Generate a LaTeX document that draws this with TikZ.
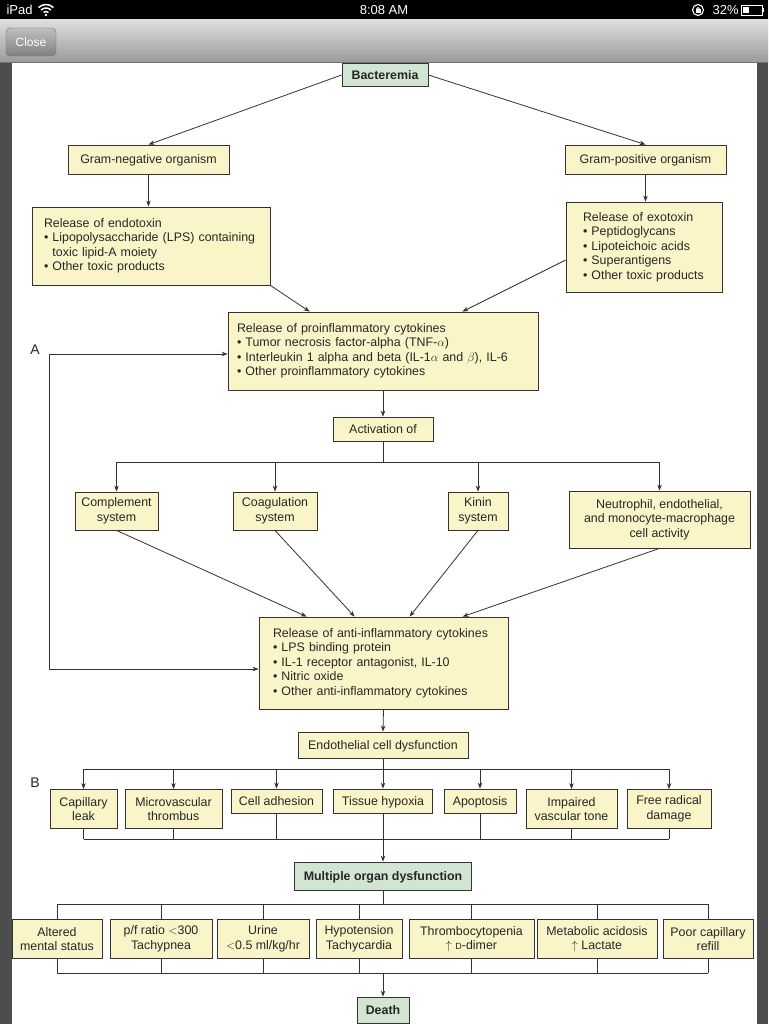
\documentclass[tikz,border=0pt]{standalone}
\usepackage{fontspec}
\setmainfont{Liberation Sans}
\usetikzlibrary{arrows.meta}
\definecolor{boxyellow}{HTML}{FAF5C8}
\definecolor{boxgreen}{HTML}{D2E5D2}
\definecolor{linegray}{HTML}{333333}
\definecolor{sidegray}{HTML}{4D4D4D}
\begin{document}
\begin{tikzpicture}[x=1pt,y=-1pt,
  every node/.style={font=\fontsize{12.4}{14.5}\selectfont, text=black!85},
  ybox/.style={draw=linegray, line width=0.8pt, fill=boxyellow, inner sep=0pt, align=center},
  gbox/.style={ybox, fill=boxgreen, font=\fontsize{12.4}{14.5}\selectfont\bfseries},
  one/.style={text height=9.6pt, text depth=0.6pt},
  lbox/.style={ybox, align=left, inner xsep=#1},
  conn/.style={draw=linegray, line width=0.8pt},
  arr/.style={conn, -{Stealth[length=6pt,width=4.5pt]}},
  arrboth/.style={conn, {Stealth[length=6pt,width=4.5pt]}-{Stealth[length=6pt,width=4.5pt]}},
  lab/.style={font=\fontsize{14}{16}\selectfont},
  bar/.style={text=white, font=\fontsize{13}{15}\selectfont}
]
\useasboundingbox (0,0) rectangle (768,1024);
% ---------- device frame ----------
\fill[sidegray] (0,63) rectangle (768,1024);
\fill[white] (12,63) rectangle (757,1024);
\fill[black] (0,0) rectangle (768,20);
\shade[top color=black!13, bottom color=black!40] (0,20) rectangle (768,63);
\draw[black!55, line width=0.8pt] (0,62.5) -- (768,62.5);
\node[bar, anchor=west] (ipad) at (3,10) {iPad};
\foreach \r in {3.5,7,10.5} \draw[white, line width=1.5pt] (46,15) ++(225:\r) arc[start angle=225, end angle=315, radius=\r];
\fill[white] (46,15) circle (1.3);
\node[bar] (clock) at (384,10) {8:08 AM};
\draw[white, line width=1.1pt] (698,10) circle (5.5);
\fill[white] (695.5,9) rectangle (700.5,13);
\draw[white, line width=0.9pt] (696.5,9) arc[start angle=180, end angle=360, radius=1.5];
\node[bar, anchor=west] (batt) at (709,10) {32\%};
\draw[white, line width=0.9pt] (741,5) rectangle (762,15);
\fill[white] (743,7) rectangle (749,13);
\fill[white] (762,8) rectangle (764,12);
\shade[top color=black!25, bottom color=black!50, draw=black!55, rounded corners=4pt] (6,28) rectangle (56,56);
\node[text=white, font=\fontsize{12}{14}\selectfont] (close) at (31,42) {Close};
% ---------- diagram nodes ----------
\node[gbox, one, minimum width=86, minimum height=23] (bact) at (385,75) {Bacteremia};
\node[ybox, one, minimum width=161, minimum height=29] (gneg) at (148.5,159.5) {Gram-negative organism};
\node[ybox, one, minimum width=161, minimum height=29] (gpos) at (645.5,159.5) {Gram-positive organism};
\node[lbox=12pt, text width=214pt, minimum height=78] (endo) at (151,246)
  {Release of endotoxin\\
   • Lipopolysaccharide (LPS) containing\\
   \phantom{• }toxic lipid-A moiety\\
   • Other toxic products};
\node[lbox=17pt, text width=122pt, minimum height=90] (exo) at (644,247)
  {Release of exotoxin\\
   • Peptidoglycans\\
   • Lipoteichoic acids\\
   • Superantigens\\
   • Other toxic products};
\node[lbox=9pt, text width=292pt, minimum height=78] (proinfl) at (383,351)
  {Release of proinflammatory cytokines\\
   • Tumor necrosis factor-alpha (TNF-$\alpha$)\\
   • Interleukin 1 alpha and beta (IL-1$\alpha$ and $\beta$), IL-6\\
   • Other proinflammatory cytokines};
\node[ybox, one, minimum width=100, minimum height=24] (act) at (383,429) {Activation of};
\node[ybox, minimum width=83, minimum height=38] (comp) at (116.5,511) {Complement\\system};
\node[ybox, minimum width=84, minimum height=38] (coag) at (275,511) {Coagulation\\system};
\node[ybox, minimum width=60, minimum height=38] (kinin) at (478,511) {Kinin\\system};
\node[ybox, minimum width=181, minimum height=57] (neut) at (659.5,519.5) {Neutrophil, endothelial,\\and monocyte-macrophage\\cell activity};
\node[lbox=14pt, text width=221pt, minimum height=92] (anti) at (383.5,663)
  {Release of anti-inflammatory cytokines\\
   • LPS binding protein\\
   • IL-1 receptor antagonist, IL-10\\
   • Nitric oxide\\
   • Other anti-inflammatory cytokines};
\node[ybox, one, minimum width=170, minimum height=26] (endoth) at (383,745) {Endothelial cell dysfunction};
\node[lab] (labA) at (35,350) {A};
\node[lab] (labB) at (35,783) {B};
% row B
\node[ybox, minimum width=67, minimum height=39] (cap) at (83.5,809) {Capillary\\leak};
\node[ybox, minimum width=97, minimum height=39] (micro) at (173.5,809) {Microvascular\\thrombus};
\node[ybox, one, minimum width=91, minimum height=24] (cell) at (276.5,801) {Cell adhesion};
\node[ybox, one, minimum width=99, minimum height=24] (tissue) at (383,801) {Tissue hypoxia};
\node[ybox, one, minimum width=72, minimum height=24] (apop) at (480,801) {Apoptosis};
\node[ybox, minimum width=91, minimum height=39] (imp) at (571.5,809) {Impaired\\vascular tone};
\node[ybox, minimum width=84, minimum height=39] (free) at (669,809) {Free radical\\damage};
\node[gbox, one, minimum width=177, minimum height=28] (mod) at (383,876) {Multiple organ dysfunction};
% bottom row
\node[ybox, minimum width=90, minimum height=39] (alt) at (57,939) {Altered\\mental status};
\node[ybox, minimum width=102, minimum height=39] (pf) at (161,939) {p/f ratio $<$300\\Tachypnea};
\node[ybox, minimum width=92, minimum height=39] (urine) at (263,939) {Urine\\$<$0.5 ml/kg/hr};
\node[ybox, minimum width=86, minimum height=39] (hypo) at (359,939) {Hypotension\\Tachycardia};
\node[ybox, minimum width=125, minimum height=39] (thr) at (471.5,939) {Thrombocytopenia\\$\uparrow$ {\fontsize{9}{10}\selectfont D}-dimer};
\node[ybox, minimum width=120, minimum height=39] (met) at (597,939) {Metabolic acidosis\\$\uparrow$ Lactate};
\node[ybox, minimum width=90, minimum height=39] (poor) at (708,939) {Poor capillary\\refill};
\node[gbox, one, minimum width=52, minimum height=26] (death) at (383,1010) {Death};
% ---------- connectors ----------
\draw[arr] (bact.west) -- (gneg.north);
\draw[arr] (bact.east) -- (gpos.north);
\draw[arr] (gneg.south) -- (gneg.south |- endo.north);
\draw[arr] (gpos.south) -- (gpos.south |- exo.north);
\draw[arr] (endo.south east) -- ([xshift=82pt]proinfl.north west);
\draw[arr] ([yshift=-13pt]exo.west) -- ([xshift=-76pt]proinfl.north east);
\draw[arr] (proinfl.south) -- (act.north);
\coordinate (hA) at (383,462);
\draw[conn] (act.south) -- (hA);
\draw[conn] (comp.north |- hA) -- (neut.north |- hA);
\foreach \n in {comp,coag,kinin,neut} \draw[arr] (\n.north |- hA) -- (\n.north);
\draw[arr] (comp.south) -- ([xshift=48pt]anti.north west);
\draw[arr] (coag.south) -- ([xshift=96pt]anti.north west);
\draw[arr] (kinin.south) -- ([xshift=151pt]anti.north west);
\draw[arr] (neut.south) -- ([xshift=204pt]anti.north west);
\draw[arrboth] ([yshift=-6pt]anti.west) -- ++(-209,0) |- ([yshift=-3pt]proinfl.west);
\draw[arr] (anti.south) -- (endoth.north);
\coordinate (hB) at (383,769);
\draw[conn] (endoth.south) -- (hB);
\draw[conn] (cap.north |- hB) -- (free.north |- hB);
\foreach \n in {cap,micro,cell,tissue,apop,imp,free} \draw[arr] (\n.north |- hB) -- (\n.north);
\coordinate (hC) at (383,839);
\foreach \n in {cap,micro,cell,tissue,apop,imp,free} \draw[conn] (\n.south) -- (\n.south |- hC);
\draw[conn] (cap.south |- hC) -- (free.south |- hC);
\draw[arr] (hC) -- (mod.north);
\coordinate (hD) at (383,904);
\draw[conn] (mod.south) -- (hD);
\draw[conn] (alt.north |- hD) -- (poor.north |- hD);
\foreach \n in {alt,pf,urine,hypo,thr,met,poor} \draw[conn] (\n.north |- hD) -- (\n.north);
\coordinate (hE) at (383,973);
\foreach \n in {alt,pf,urine,hypo,thr,met,poor} \draw[conn] (\n.south) -- (\n.south |- hE);
\draw[conn] (alt.south |- hE) -- (poor.south |- hE);
\draw[arr] (hE) -- (death.north);
\end{tikzpicture}
\end{document}
